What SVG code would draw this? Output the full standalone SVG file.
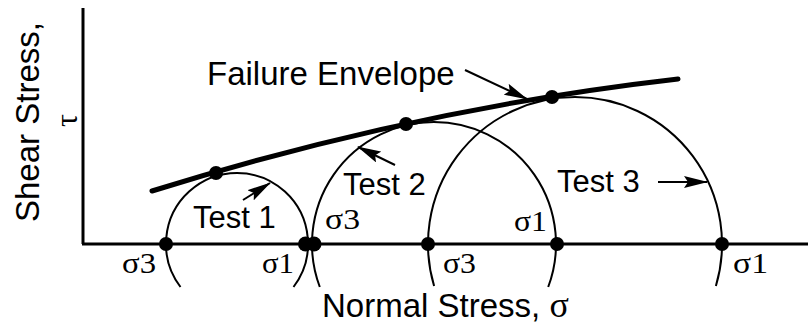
<svg xmlns="http://www.w3.org/2000/svg" width="808" height="325" viewBox="0 0 808 325">
<style>
.axis{stroke:#000;stroke-width:3;fill:none}
.circ{stroke:#000;stroke-width:2;fill:none}
.env{stroke:#000;stroke-width:5;fill:none;stroke-linecap:round}
.arr{stroke:#000;stroke-width:2;fill:none;marker-end:url(#ah)}
.dot{fill:#000}
.sans{font-family:"Liberation Sans",Arial,sans-serif;fill:#000}
.serif{font-family:"Liberation Serif","Times New Roman",serif;fill:#000}
.sig{font-family:"Liberation Serif","Times New Roman",serif;fill:#000;font-size:29px}
</style>
<defs>
<marker id="ah" markerUnits="userSpaceOnUse" markerWidth="24" markerHeight="12" refX="23" refY="6" orient="auto">
<path d="M0,0 L24,6 L0,12 L4,6 z" fill="#000"/>
</marker>
</defs>
<rect width="808" height="325" fill="#fff"/>
<g id="axes">
<line class="axis" x1="83" y1="8" x2="83" y2="244"/>
<line class="axis" x1="82" y1="244" x2="808" y2="244"/>
<text class="sans" font-size="33" transform="translate(39,222) rotate(-90)">Shear Stress,</text>
<text class="serif" font-size="32" text-anchor="middle" transform="translate(77,120.5) rotate(-90)">τ</text>
<text class="sans" font-size="33" x="322" y="317">Normal Stress, <tspan class="serif" font-size="36">σ</tspan></text>
</g>
<g id="test1">
<path class="circ" d="M180.5,287 A71,71 0 1 1 293.5,287"/>
<circle class="dot" cx="166" cy="244" r="7"/>
<circle class="dot" cx="305.5" cy="244" r="7.5"/>
<text class="sans" font-size="31" x="193" y="228">Test 1</text>
<text class="sig" x="122" y="273" textLength="34" lengthAdjust="spacingAndGlyphs">σ3</text>
<text class="sig" x="262" y="273" textLength="32" lengthAdjust="spacingAndGlyphs">σ1</text>
</g>
<g id="test2">
<path class="circ" d="M319.8,287 A122,122 0 1 1 548.2,287"/>
<circle class="dot" cx="314" cy="244" r="7.5"/>
<circle class="dot" cx="557" cy="244" r="7"/>
<text class="sans" font-size="31" x="343" y="195">Test 2</text>
<text class="sig" x="325" y="229" textLength="35" lengthAdjust="spacingAndGlyphs">σ3</text>
<text class="sig" x="514" y="231" textLength="33" lengthAdjust="spacingAndGlyphs">σ1</text>
</g>
<g id="test3">
<path class="circ" d="M434.1,286 A147,147 0 1 1 715.9,286"/>
<circle class="dot" cx="428" cy="244" r="7"/>
<circle class="dot" cx="722" cy="244" r="7"/>
<text class="sans" font-size="31" x="557" y="192">Test 3</text>
<text class="sig" x="443" y="273" textLength="33" lengthAdjust="spacingAndGlyphs">σ3</text>
<text class="sig" x="733" y="273" textLength="35" lengthAdjust="spacingAndGlyphs">σ1</text>
</g>
<g id="envelope">
<path class="env" d="M152,191 Q415,109 678,79"/>
<circle class="dot" cx="216" cy="173" r="7"/>
<circle class="dot" cx="406" cy="124" r="7"/>
<circle class="dot" cx="552" cy="97" r="7"/>
<text class="sans" font-size="33" x="207" y="85">Failure Envelope</text>
</g>
<g id="connectors">
<line class="arr" x1="465" y1="70" x2="527" y2="99"/>
<line class="arr" x1="243" y1="200" x2="270" y2="183"/>
<line class="arr" x1="395" y1="165" x2="358" y2="147"/>
<line class="arr" x1="658" y1="182" x2="707" y2="182"/>
</g>
</svg>
